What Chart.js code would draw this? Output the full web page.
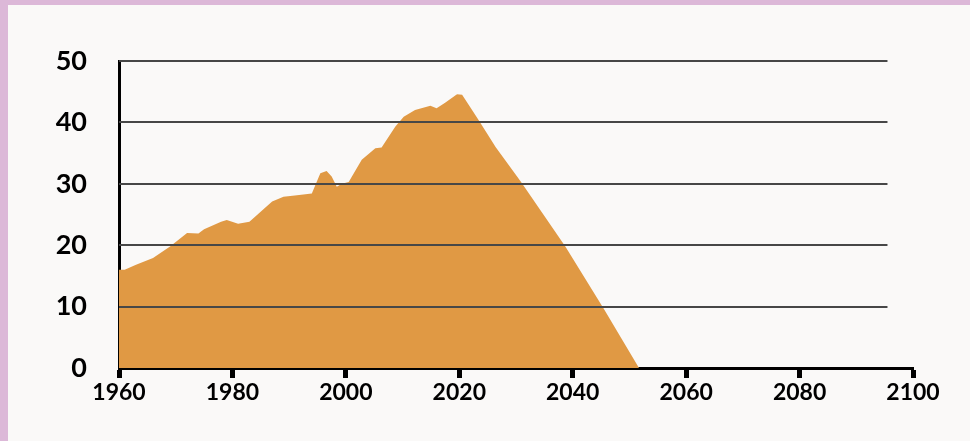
<!DOCTYPE html>
<html>
<head>
<meta charset="utf-8">
<script src="https://cdn.jsdelivr.net/npm/chart.js@4/dist/chart.umd.min.js"></script>
<style>
  html, body { margin: 0; padding: 0; }
  body {
    width: 970px; height: 441px; overflow: hidden;
    background: #faf9f8;
    position: relative;
  }
  .frame {
    position: absolute; left: 0; top: 0; width: 962px; height: 436px;
    border-left: 8px solid #dcb8d8; border-top: 5px solid #dcb8d8;
  }
  #wrap { position: absolute; left: 0; top: 0; width: 970px; height: 441px; }
</style>
</head>
<body>
<div class="frame"></div>
<div id="wrap"><canvas id="chart"></canvas></div>
<script>
// values
const years = [1960, 1961, 1963, 1966, 1969, 1972, 1974, 1975, 1978, 1979, 1981, 1983,
  1987, 1989, 1991, 1994, 1995.5, 1996.6, 1997.5, 1998.4, 1999.3, 2000.5, 2002.8,
  2005.2, 2006.3, 2008.7, 2010.2, 2012.2, 2014.9, 2016, 2017.5, 2019.6, 2020.5,
  2023.4, 2026.4, 2030.8, 2038.7, 2045.5, 2051.7];
const values = [16, 16, 16.8, 17.9, 19.8, 22.0, 21.9, 22.6, 23.8, 24.1, 23.5, 23.8,
  27.1, 27.9, 28.1, 28.4, 31.7, 32.1, 31.2, 29.5, 30.0, 30.3, 33.9,
  35.8, 35.9, 39.3, 40.9, 42.0, 42.7, 42.3, 43.2, 44.6, 44.5,
  40.4, 36.0, 30.4, 19.8, 9.6, 0];
const xTicks = [1960, 1980, 2000, 2020, 2040, 2060, 2080, 2100];
const yTicks = [0, 10, 20, 30, 40, 50];

const points = years.map((y, i) => ({ x: y, y: values[i] }));

// horizontal grid lines sit on top of the area and stop short of the axis end
const gridOnTop = {
  id: 'gridOnTop',
  afterDatasetsDraw(chart) {
    const { ctx, scales } = chart;
    const x0 = chart.chartArea.left;
    const x1 = scales.x.getPixelForValue(2095.5);
    ctx.save();
    ctx.strokeStyle = '#474747';
    ctx.lineWidth = 2;
    yTicks.forEach(v => {
      if (v === 0) return;
      const py = Math.round(scales.y.getPixelForValue(v));
      ctx.beginPath();
      ctx.moveTo(x0, py);
      ctx.lineTo(x1, py);
      ctx.stroke();
    });
    ctx.restore();
  }
};

const ctx = document.getElementById('chart').getContext('2d');
new Chart(ctx, {
  type: 'line',
  data: {
    datasets: [{
      data: points,
      fill: 'origin',
      backgroundColor: '#e09944',
      borderWidth: 0,
      pointRadius: 0,
      tension: 0
    }]
  },
  options: {
    responsive: true,
    maintainAspectRatio: false,
    animation: false,
    layout: { padding: { top: 61, right: 57, left: 0, bottom: 0 } },
    plugins: { legend: { display: false }, tooltip: { enabled: false } },
    scales: {
      x: {
        type: 'linear',
        min: 1960,
        max: 2100,
        afterBuildTicks: axis => { axis.ticks = xTicks.map(v => ({ value: v })); },
        afterFit: axis => { axis.height = 73; },
        grid: {
          drawOnChartArea: false,
          drawTicks: true,
          tickLength: 10,
          tickWidth: 5,
          tickColor: '#000'
        },
        border: { display: true, color: '#000', width: 3 },
        ticks: {
          color: '#000',
          padding: 1,
          maxRotation: 0,
          font: { family: "'Liberation Sans Narrow', Lato, sans-serif", size: 23, weight: 'bold' },
          callback: v => String(v)
        }
      },
      y: {
        min: 0,
        max: 50,
        afterBuildTicks: axis => { axis.ticks = yTicks.map(v => ({ value: v })); },
        afterFit: axis => { axis.width = 119; },
        grid: { display: false, drawTicks: false },
        border: { display: true, color: '#000', width: 3 },
        ticks: {
          color: '#000',
          padding: 32,
          font: { family: 'Lato, sans-serif', size: 27, weight: 'bold' }
        }
      }
    }
  },
  plugins: [gridOnTop]
});
</script>
</body>
</html>
